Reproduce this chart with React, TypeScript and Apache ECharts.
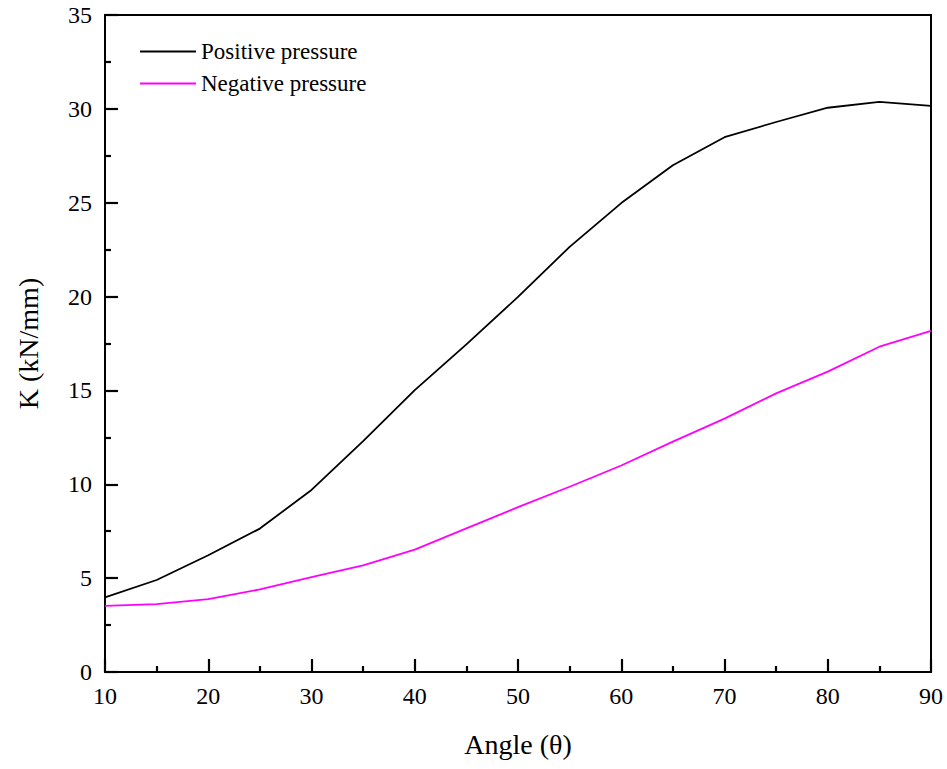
import React, { useEffect, useRef } from "react";
import * as echarts from "echarts";

const angles = [10, 15, 20, 25, 30, 35, 40, 45, 50, 55, 60, 65, 70, 75, 80, 85, 90];
const positivePressure = [3.98, 4.9, 6.22, 7.64, 9.7, 12.3, 15.02, 17.45, 19.98, 22.65, 24.98, 27.0, 28.49, 29.3, 30.06, 30.37, 30.16];
const negativePressure = [3.52, 3.62, 3.88, 4.4, 5.05, 5.68, 6.52, 7.65, 8.78, 9.87, 11.0, 12.27, 13.5, 14.84, 16.0, 17.33, 18.17];
const seriesNames = ["Positive pressure", "Negative pressure"];

const font = "'Liberation Serif', 'Times New Roman', serif";

export default function App() {
  const ref = useRef<HTMLDivElement>(null);
  useEffect(() => {
    if (!ref.current) return;
    const chart = echarts.init(ref.current, null, { renderer: "svg" });
    const axisCommon = {
      axisLine: { show: true, onZero: false, lineStyle: { color: "#000", width: 2 } },
      axisTick: { show: true, inside: true, length: 13, lineStyle: { color: "#000", width: 2.2 } },
      minorTick: { show: true, splitNumber: 2, length: 6, lineStyle: { color: "#000", width: 2.2 } },
      splitLine: { show: false },
      axisLabel: { color: "#000", fontFamily: font, fontSize: 24 },
      nameTextStyle: { color: "#000", fontFamily: font, fontSize: 28 },
    };
    chart.setOption({
      animation: false,
      backgroundColor: "#fff",
      grid: { left: 105, top: 15, right: 16, bottom: 97, show: true, borderColor: "#000", borderWidth: 2 },
      legend: {
        orient: "vertical",
        left: 135,
        top: 35,
        icon: "rect",
        itemWidth: 56,
        itemHeight: 2,
        itemGap: 9,
        textStyle: { color: "#000", fontFamily: font, fontSize: 23, lineHeight: 23 },
        data: seriesNames,
      },
      xAxis: {
        type: "value",
        min: 10,
        max: 90,
        interval: 10,
        name: "Angle (θ)",
        nameLocation: "middle",
        nameGap: 58,
        ...axisCommon,
        axisLabel: { ...axisCommon.axisLabel, margin: 12 },
      },
      yAxis: {
        type: "value",
        min: 0,
        max: 35,
        interval: 5,
        name: "K (kN/mm)",
        nameLocation: "middle",
        nameGap: 63,
        ...axisCommon,
        axisLabel: { ...axisCommon.axisLabel, margin: 13 },
      },
      series: [
        {
          name: seriesNames[0],
          type: "line",
          symbol: "none",
          data: angles.map((a, i) => [a, positivePressure[i]]),
          lineStyle: { color: "#000", width: 1.8 },
          itemStyle: { color: "#000" },
        },
        {
          name: seriesNames[1],
          type: "line",
          symbol: "none",
          data: angles.map((a, i) => [a, negativePressure[i]]),
          lineStyle: { color: "#ff00ff", width: 1.8 },
          itemStyle: { color: "#ff00ff" },
        },
      ],
    });
    return () => chart.dispose();
  }, []);
  return <div ref={ref} style={{ width: 947, height: 769, position: "absolute", left: 0, top: 0 }} />;
}
